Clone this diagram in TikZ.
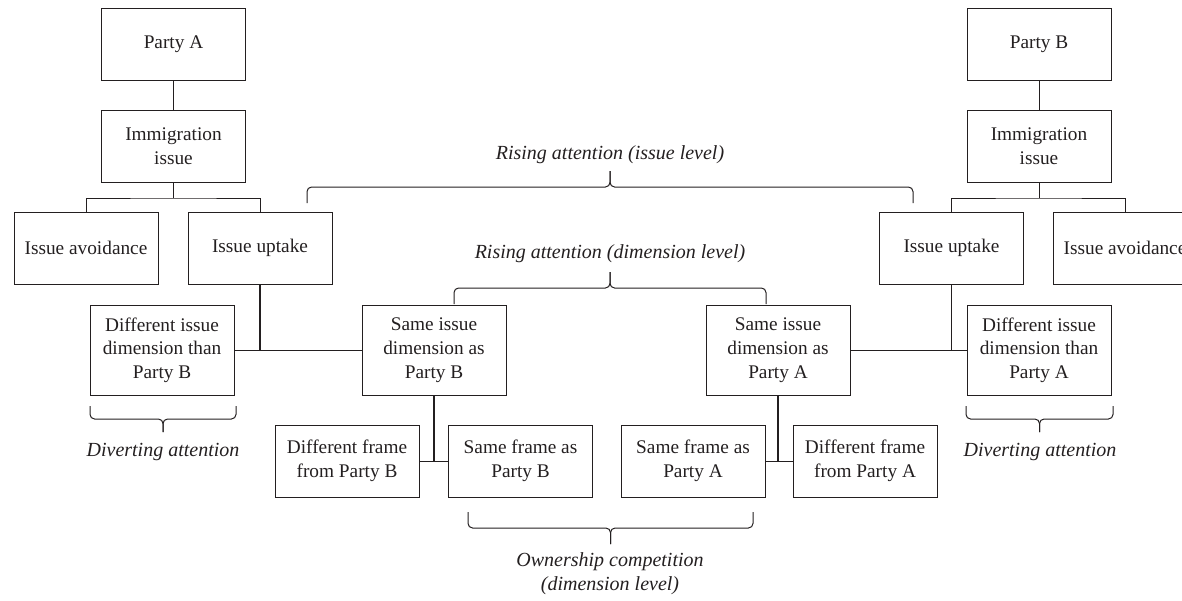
\documentclass[tikz,border=0pt]{standalone}
\usepackage{fontspec}
\setmainfont{Liberation Serif}
\usepackage{tikz}
\definecolor{ink}{HTML}{231F20}

\tikzset{
  box/.style={draw, line width=0.5pt, minimum width=72pt, minimum height=36pt,
    inner sep=0pt, align=center},
  tallbox/.style={box, minimum height=45pt},
  link/.style={line width=0.5pt},
  stem/.style={line width=0.9pt},
  braceline/.style={line width=0.5pt, rounded corners=2.3pt},
  note/.style={font=\itshape, align=center},
}
% #1 left x, #2 right x, #3 y of the ends, #4 half height (negative: tip down)
\newcommand{\curlybrace}[4]{%
  \draw[braceline] (#1,#3) |- ({(#1+#2)/2},{#3-#4}) -- ({(#1+#2)/2},{#3-2*#4});
  \draw[braceline] ({(#1+#2)/2},{#3-2*#4}) -- ({(#1+#2)/2},{#3-#4}) -| (#2,#3);
}

\begin{document}
\begin{tikzpicture}[x=0.5pt, y=-0.5pt, ink, font=\fontsize{9.65}{11.85}\selectfont]
    \clip (0,0) rectangle (1182,600);
    % party A side
    \node[box] (partyA) at (173.5,44) {Party A};
    \node[box] (issueA) at (173.5,146.5) {Immigration\\issue};
    \node[box] (avoidA) at (86,248) {Issue avoidance};
    \node[box] (uptakeA) at (260,248) {Issue uptake};
    % party B side
    \node[box] (partyB) at (1039,44) {Party B};
    \node[box] (issueB) at (1039,146.5) {Immigration\\issue};
    \node[box] (uptakeB) at (951.5,248) {Issue uptake};
    \node[box] (avoidB) at (1125,248) {Issue avoidance};
    % dimensions
    \node[tallbox] (otherdimA) at (162,350) {Different issue\\dimension than\\Party B};
    \node[tallbox] (samedimA) at (434,350) {Same issue\\dimension as\\Party B};
    \node[tallbox] (samedimB) at (778,350) {Same issue\\dimension as\\Party A};
    \node[tallbox] (otherdimB) at (1039,350) {Different issue\\dimension than\\Party A};
    % frames
    \node[box] (otherframeA) at (347,461) {Different frame\\from Party B};
    \node[box] (sameframeA) at (520.5,461) {Same frame as\\Party B};
    \node[box] (sameframeB) at (693,461) {Same frame as\\Party A};
    \node[box] (otherframeB) at (865,461) {Different frame\\from Party A};

    \draw[link] (partyA) -- (issueA);
    \draw[link] (issueA.south) -- ++(0,15) coordinate (forkA);
    \draw[link] (avoidA.north) |- (forkA) -| (uptakeA.north);
    \draw[link] (partyB) -- (issueB);
    \draw[link] (issueB.south) -- ++(0,15) coordinate (forkB);
    \draw[link] (uptakeB.north) |- (forkB) -| (avoidB.north);

    \draw[stem] (uptakeA.south) -- (uptakeA.south |- samedimA.west);
    \draw[link] (otherdimA.east) -- (samedimA.west);
    \draw[stem] (uptakeB.south) -- (uptakeB.south |- samedimB.east);
    \draw[link] (samedimB.east) -- (otherdimB.west);

    \draw[stem] (samedimA.south) -- (samedimA.south |- sameframeA.west);
    \draw[link] (otherframeA.east) -- (sameframeA.west);
    \draw[stem] (samedimB.south) -- (samedimB.south |- sameframeB.east);
    \draw[link] (sameframeB.east) -- (otherframeB.west);

    % braces
    \curlybrace{307}{913}{203}{16}
    \curlybrace{454}{766}{304}{16}
    \curlybrace{90}{236}{406}{-13}
    \curlybrace{966}{1113}{406}{-13}
    \curlybrace{468}{753}{512}{-16}
    \node[note] (risingissue) at (610,155) {Rising attention (issue level)};
    \node[note] (risingdim) at (610,254) {Rising attention (dimension level)};
    \node[note] (divertA) at (163,452) {Diverting attention};
    \node[note] (divertB) at (1040,452) {Diverting attention};
    \node[note] (ownership) at (610,574) {Ownership competition\\(dimension level)};
  \end{tikzpicture}
\end{document}
